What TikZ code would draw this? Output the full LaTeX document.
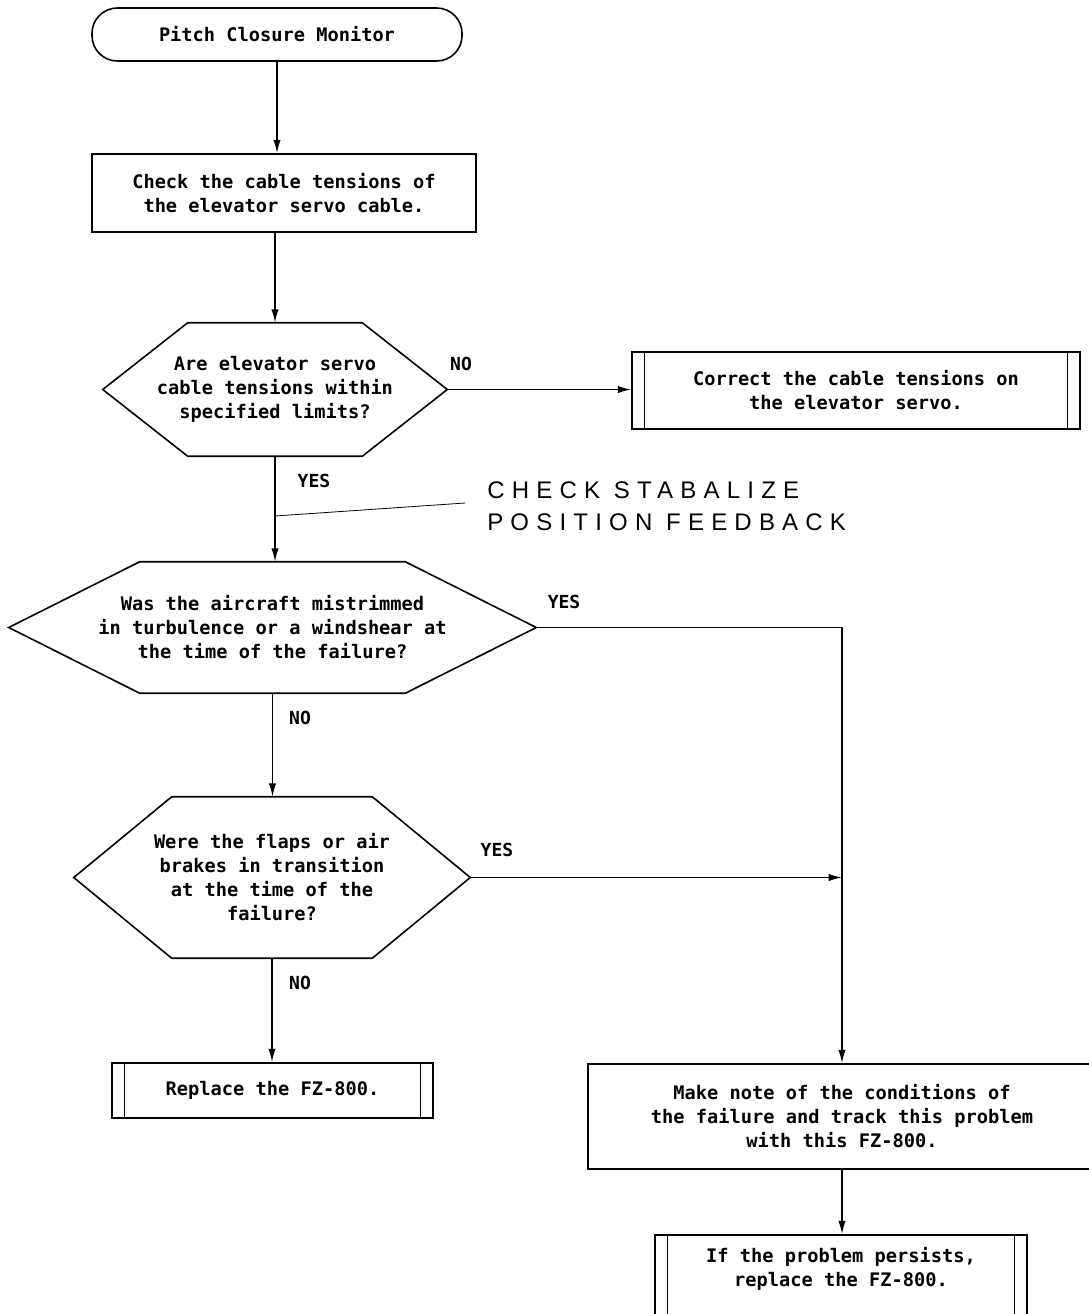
\documentclass[tikz,border=0pt]{standalone}
\usepackage{fontspec}
\newfontfamily\chartfont{DejaVu Sans Mono}
\newfontfamily\handfont{Liberation Sans}[LetterSpace=30]
\usetikzlibrary{arrows.meta}

\begin{document}
\begin{tikzpicture}[x=0.75pt,y=-0.75pt,
  every node/.style={font=\chartfont\bfseries\fontsize{14}{18}\selectfont},
  flow/.style={line width=1.2pt},
  arr/.style={flow,-{Latex[length=10pt,width=5.5pt]}},
  stepbox/.style={draw,line width=1.2pt,inner sep=0pt,align=center},
  termbox/.style={stepbox,rounded corners=19pt},
  predef/.style={stepbox,path picture={
      \draw[line width=1.2pt]
        ([xshift=9.5pt]path picture bounding box.north west) -- ([xshift=9.5pt]path picture bounding box.south west)
        ([xshift=-9.5pt]path picture bounding box.north east) -- ([xshift=-9.5pt]path picture bounding box.south east);}},
  decision/.style={inner sep=0pt,align=center},
  hexline/.style={line width=1.2pt,line join=miter},
  lbl/.style={font=\chartfont\bfseries\fontsize{13.5}{16}\selectfont,inner sep=0pt},
  hand/.style={font=\handfont\fontsize{18}{20}\selectfont,inner sep=0pt,anchor=west}
]
\useasboundingbox (0,0) rectangle (1089,1314);

% start terminal
\node[termbox,minimum width=277.5pt,minimum height=39.75pt] (start) at (277,34.5) {Pitch Closure Monitor};

% first action
\node[stepbox,minimum width=288pt,minimum height=58.5pt] (box1) at (284,193)
  {Check the cable tensions of\\the elevator servo cable.};

% decision 1
\node[decision,minimum width=258pt,minimum height=99.75pt] (d1) at (275,389.5)
  {Are elevator servo\\cable tensions within\\specified limits?};
\draw[hexline] (d1.west) -- ([xshift=63.75pt]d1.north west) -- ([xshift=-63.75pt]d1.north east)
  -- (d1.east) -- ([xshift=-63.75pt]d1.south east) -- ([xshift=63.75pt]d1.south west) -- cycle;

% correction box
\node[predef,minimum width=336pt,minimum height=57.75pt] (box2) at (856,390.5)
  {Correct the cable tensions on\\the elevator servo.};

% decision 2
\node[decision,minimum width=395.25pt,minimum height=98.25pt] (d2) at (272.5,627.5)
  {Was the aircraft mistrimmed\\in turbulence or a windshear at\\the time of the failure?};
\draw[hexline] (d2.west) -- ([xshift=98.25pt]d2.north west) -- ([xshift=-98.25pt]d2.north east)
  -- (d2.east) -- ([xshift=-98.25pt]d2.south east) -- ([xshift=98.25pt]d2.south west) -- cycle;

% decision 3
\node[decision,minimum width=297pt,minimum height=120.75pt] (d3) at (272,877.5)
  {Were the flaps or air\\brakes in transition\\at the time of the\\failure?};
\draw[hexline] (d3.west) -- ([xshift=73.5pt]d3.north west) -- ([xshift=-73.5pt]d3.north east)
  -- (d3.east) -- ([xshift=-73.5pt]d3.south east) -- ([xshift=73.5pt]d3.south west) -- cycle;

% replace box
\node[predef,minimum width=240.75pt,minimum height=41.25pt] (replace) at (272.5,1090.5)
  {Replace the FZ-800.};

% note box (runs past the right edge)
\node[stepbox,minimum width=381pt,minimum height=78.75pt] (note) at (842,1116.5)
  {Make note of the conditions of\\the failure and track this problem\\with this FZ-800.};

% final box (runs past the bottom edge)
\node[predef,minimum width=279pt,minimum height=66pt] (final) at (841,1279)
  {If the problem persists,\\replace the FZ-800.\\\mbox{}};

% connectors
\draw[arr] (start.south) -- (start.south |- box1.north);
\draw[arr] (d1.north |- box1.south) -- (d1.north);
\draw[arr] (d1.east) -- (d1.east -| box2.west);
\draw[arr] (d1.south) -- (d1.south |- d2.north);
\draw[arr] (d2.south) -- (d2.south |- d3.north);
\draw[arr] (d3.south) -- (d3.south |- replace.north);
\draw[arr] (d2.east) -- (d2.east -| note.north) -- (note.north);
\draw[arr] (d3.east) -- (d3.east -| note.north);
\draw[arr] (note.south) -- (note.south |- final.north);

% branch labels
\node[lbl] (no1) at (461,364) {NO};
\node[lbl] (yes1) at (314,481) {YES};
\node[lbl] (yes2) at (564,602) {YES};
\node[lbl] (no2) at (300,718) {NO};
\node[lbl] (yes3) at (497,850) {YES};
\node[lbl] (no3) at (300,983) {NO};

% handwritten remark
\coordinate (tap) at (d1.south |- 0,516);
\coordinate (remarkend) at (465,503);
\draw[line width=0.6pt] (tap) -- (remarkend);
\node[hand] (remark1) at (487,490) {CHECK STABALIZE};
\node[hand] (remark2) at (487,522) {POSITION FEEDBACK};
\end{tikzpicture}
\end{document}
